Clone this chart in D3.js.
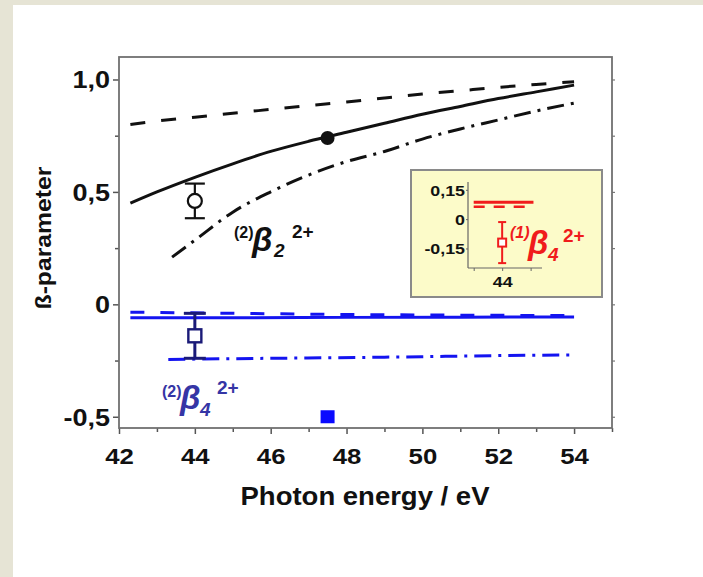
<!DOCTYPE html>
<html><head><meta charset="utf-8">
<script src="https://cdn.jsdelivr.net/npm/d3@7"></script>
<style>
html,body{margin:0;padding:0;background:#e6e4d5;}
svg{display:block;}
</style></head>
<body>
<svg id="chart" width="703" height="577"></svg>
<script>
// ---- data ----
const energyTicks = [42, 44, 46, 48, 50, 52, 54];
const energyTickLabels = ["42", "44", "46", "48", "50", "52", "54"];
const energyMinorTicks = [43, 45, 47, 49, 51, 53, 55];
const betaTicks = [-0.5, 0, 0.5, 1.0];
const betaTickLabels = ["-0,5", "0", "0,5", "1,0"];
const betaMinorTicks = [-0.25, 0.25, 0.75];

// beta_2 calculations (black)
const b2Energy = [42.3, 43, 44, 45, 46, 47, 48, 49, 50, 51, 52, 53, 54];
const b2Dashed = [0.80, 0.815, 0.832, 0.85, 0.867, 0.884, 0.90, 0.918, 0.935, 0.95, 0.965, 0.978, 0.99];
const b2Solid = [0.45, 0.50, 0.565, 0.625, 0.68, 0.725, 0.765, 0.805, 0.845, 0.88, 0.915, 0.945, 0.975];
const b2DashDotEnergy = [43.4, 44, 45, 46, 47, 48, 49, 50, 51, 52, 53, 54];
const b2DashDot = [0.21, 0.285, 0.41, 0.50, 0.575, 0.635, 0.68, 0.735, 0.78, 0.82, 0.86, 0.895];

// beta_4 calculations (blue)
const b4Energy = [42.3, 45, 48, 51, 54];
const b4Dashed = [-0.035, -0.04, -0.045, -0.048, -0.05];
const b4Solid = [-0.06, -0.06, -0.058, -0.057, -0.056];
const b4DashDotEnergy = [43.3, 46, 49, 52, 54];
const b4DashDot = [-0.245, -0.24, -0.235, -0.228, -0.225];

// measured points
const b2OpenE = [44], b2OpenV = [0.46], b2OpenErr = [0.077];
const b2FilledE = [47.5], b2FilledV = [0.74];
const b4OpenE = [44], b4OpenV = [-0.14], b4OpenErr = [0.10];
const b4FilledE = [47.5], b4FilledV = [-0.5];

// inset: first-order beta_4
const insetTicks = [-0.15, 0, 0.15];
const insetTickLabels = ["-0,15", "0", "0,15"];
const insetEnergyTicks = [43, 44, 45];
const insetLineEnergy = [43.0, 45.1];
const insetSolid = [0.086, 0.086];
const insetDashed = [0.064, 0.064];
const insetPointE = [44], insetPointV = [-0.12], insetPointErr = [0.105];

// ---- layout ----
const svg = d3.select("#chart");
const FONT = "'Liberation Sans', Arial, sans-serif";

svg.append("rect").attr("x", 13).attr("y", 5).attr("width", 690).attr("height", 572).attr("fill", "#ffffff");

const x = d3.scaleLinear().domain([42, 55]).range([119, 612]);
const y = d3.scaleLinear().domain([-0.55, 1.1]).range([428, 57]);

const BLACK = "#111111", BLUE = "#1414f0", NAVY = "#1a1a78", RED = "#f01c1c";

function stretchedText(g, px, py, str, size, anchor, rot, sx, color) {
  return g.append("text")
    .attr("transform", `translate(${px},${py}) rotate(${rot}) scale(${sx},1)`)
    .attr("text-anchor", anchor)
    .attr("font-family", FONT).attr("font-weight", "bold")
    .attr("font-size", size).attr("fill", color || "#111")
    .text(str);
}

// axes
const axisG = svg.append("g");
const bottom = d3.axisBottom(x).tickValues(energyTicks).tickSize(6)
  .tickFormat((d, i) => energyTickLabels[i]);
const gb = axisG.append("g").attr("transform", `translate(0,${y.range()[0]})`).call(bottom);
gb.select(".domain").remove();
gb.selectAll(".tick line").attr("stroke", "#555").attr("stroke-width", 1.5);
gb.selectAll(".tick text").attr("y", 0).attr("dy", null)
  .attr("transform", "translate(0,36) scale(1.12,1)")
  .attr("font-family", FONT).attr("font-weight", "bold").attr("font-size", 23).attr("fill", "#111");

const bottomMinor = d3.axisBottom(x).tickValues(energyMinorTicks).tickSize(4).tickFormat("");
const gbm = axisG.append("g").attr("transform", `translate(0,${y.range()[0]})`).call(bottomMinor);
gbm.select(".domain").remove();
gbm.selectAll(".tick line").attr("stroke", "#555").attr("stroke-width", 1.5);

const left = d3.axisLeft(y).tickValues(betaTicks).tickSize(6)
  .tickFormat((d, i) => betaTickLabels[i]);
const gl = axisG.append("g").attr("transform", `translate(${x.range()[0]},0)`).call(left);
gl.select(".domain").remove();
gl.selectAll(".tick line").attr("stroke", "#555").attr("stroke-width", 1.5);
gl.selectAll(".tick text").attr("x", 0).attr("dy", null)
  .attr("transform", "translate(-9,8.5) scale(1.15,1)")
  .attr("font-family", FONT).attr("font-weight", "bold").attr("font-size", 23.5).attr("fill", "#111");

const leftMinor = d3.axisLeft(y).tickValues(betaMinorTicks).tickSize(4).tickFormat("");
const glm = axisG.append("g").attr("transform", `translate(${x.range()[0]},0)`).call(leftMinor);
glm.select(".domain").remove();
glm.selectAll(".tick line").attr("stroke", "#555").attr("stroke-width", 1.5);

const rightMinor = d3.axisRight(y).tickValues(betaTicks.concat(betaMinorTicks)).tickSize(3).tickFormat("");
const grm = axisG.append("g").attr("transform", `translate(${x.range()[1]},0)`).call(rightMinor);
grm.select(".domain").remove();
grm.selectAll(".tick line").attr("stroke", "#777").attr("stroke-width", 1.2);

// frame
svg.append("rect").attr("x", x.range()[0]).attr("y", y.range()[1])
  .attr("width", x.range()[1] - x.range()[0]).attr("height", y.range()[0] - y.range()[1])
  .attr("fill", "none").attr("stroke", "#707070").attr("stroke-width", 1.8);

// axis titles
stretchedText(svg, 365, 505, "Photon energy / eV", 25, "middle", 0, 1.1);
stretchedText(svg, 51, 238, "ß-parameter", 22.5, "middle", -90, 1.1);

// curves
const lineGen = d3.line().x(d => x(d[0])).y(d => y(d[1])).curve(d3.curveMonotoneX);
function curve(es, vs, color, dash, width) {
  svg.append("path").datum(es.map((e, i) => [e, vs[i]]))
    .attr("d", lineGen).attr("fill", "none").attr("stroke", color)
    .attr("stroke-width", width).attr("stroke-dasharray", dash).attr("stroke-linecap", "butt");
}
curve(b2Energy, b2Dashed, BLACK, "15,16", 3);
curve(b2Energy, b2Solid, BLACK, null, 3);
curve(b2DashDotEnergy, b2DashDot, BLACK, "17,7,3,7", 3);
curve(b4Energy, b4Dashed, BLUE, "14,16", 3);
curve(b4Energy, b4Solid, BLUE, null, 3);
curve(b4DashDotEnergy, b4DashDot, BLUE, "17,7,3,7", 3);

// error bars
function errorBar(xs, ys, es, vs, errs, color, cap, width) {
  es.forEach((e, i) => {
    const cx = xs(e), top = ys(vs[i] + errs[i]), bot = ys(vs[i] - errs[i]);
    const g = svg.append("g").attr("stroke", color).attr("stroke-width", width);
    g.append("line").attr("x1", cx).attr("x2", cx).attr("y1", top).attr("y2", bot);
    g.append("line").attr("x1", cx - cap / 2).attr("x2", cx + cap / 2).attr("y1", top).attr("y2", top);
    g.append("line").attr("x1", cx - cap / 2).attr("x2", cx + cap / 2).attr("y1", bot).attr("y2", bot);
  });
}
errorBar(x, y, b2OpenE, b2OpenV, b2OpenErr, BLACK, 20, 2.2);
b2OpenE.forEach((e, i) => svg.append("circle").attr("cx", x(e)).attr("cy", y(b2OpenV[i])).attr("r", 7)
  .attr("fill", "#fff").attr("stroke", BLACK).attr("stroke-width", 2.2));
b2FilledE.forEach((e, i) => svg.append("circle").attr("cx", x(e)).attr("cy", y(b2FilledV[i])).attr("r", 7)
  .attr("fill", BLACK));

errorBar(x, y, b4OpenE, b4OpenV, b4OpenErr, NAVY, 22, 3);
b4OpenE.forEach((e, i) => svg.append("rect").attr("x", x(e) - 6.5).attr("y", y(b4OpenV[i]) - 6.5)
  .attr("width", 13).attr("height", 13).attr("fill", "#fff").attr("stroke", NAVY).attr("stroke-width", 2.4));
b4FilledE.forEach((e, i) => svg.append("rect").attr("x", x(e) - 7).attr("y", y(b4FilledV[i]) - 6.5)
  .attr("width", 14).attr("height", 13).attr("fill", "#0a0aff"));

// series labels
function betaLabel(parts, color) {
  const t = svg.append("text").attr("font-family", FONT).attr("font-weight", "bold").attr("fill", color);
  parts.forEach(p => t.append("tspan").attr("x", p.x).attr("y", p.y)
    .attr("font-size", p.s).attr("font-style", p.i ? "italic" : "normal").text(p.t));
}
betaLabel([
  { t: "(2)", x: 234, y: 238, s: 16, i: false },
  { t: "β", x: 252, y: 251, s: 33, i: true },
  { t: "2", x: 274, y: 257, s: 19, i: true },
  { t: "2+", x: 292, y: 238, s: 19, i: false }
], BLACK);
betaLabel([
  { t: "(2)", x: 162, y: 397, s: 16, i: false },
  { t: "β", x: 180, y: 409, s: 33, i: true },
  { t: "4", x: 200, y: 416, s: 19, i: true },
  { t: "2+", x: 217, y: 394, s: 19, i: false }
], "#3535a5");

// inset
const inset = svg.append("g");
inset.append("rect").attr("x", 411).attr("y", 170).attr("width", 191).attr("height", 127)
  .attr("fill", "#fcfbc9").attr("stroke", "#8a8a8a").attr("stroke-width", 2);
const xi = d3.scaleLinear().domain([42.8, 45.4]).range([468, 542]);
const yi = d3.scaleLinear().domain([-0.25, 0.19]).range([268, 182]);

const ib = d3.axisBottom(xi).tickValues(insetEnergyTicks).tickSize(3)
  .tickFormat(d => d === 44 ? "44" : "");
const gib = inset.append("g").attr("transform", `translate(0,${yi.range()[0]})`).call(ib);
gib.select(".domain").attr("stroke", "#666").attr("stroke-width", 1.2).attr("d", `M${xi.range()[0]},0H${xi.range()[1]}`);
gib.selectAll(".tick line").attr("stroke", "#666");
gib.selectAll(".tick text").attr("y", 0).attr("dy", null)
  .attr("transform", "translate(0,19) scale(1.15,1)")
  .attr("font-family", FONT).attr("font-weight", "bold").attr("font-size", 15.5).attr("fill", "#111");

const il = d3.axisLeft(yi).tickValues(insetTicks).tickSize(2)
  .tickFormat((d, i) => insetTickLabels[i]);
const gil = inset.append("g").attr("transform", `translate(${xi.range()[0]},0)`).call(il);
gil.select(".domain").attr("stroke", "#666").attr("stroke-width", 1.2).attr("d", `M0,${yi.range()[1]}V${yi.range()[0]}`);
gil.selectAll(".tick line").attr("stroke", "#666");
gil.selectAll(".tick text").attr("x", 0).attr("dy", null)
  .attr("transform", "translate(-3,5.5) scale(1.15,1)")
  .attr("font-family", FONT).attr("font-weight", "bold").attr("font-size", 15.5).attr("fill", "#111");

const insetLine = d3.line().x(d => xi(d[0])).y(d => yi(d[1]));
inset.append("path").datum(insetLineEnergy.map((e, i) => [e, insetSolid[i]]))
  .attr("d", insetLine).attr("stroke", RED).attr("stroke-width", 3).attr("fill", "none");
inset.append("path").datum(insetLineEnergy.map((e, i) => [e, insetDashed[i]]))
  .attr("d", insetLine).attr("stroke", RED).attr("stroke-width", 2.5).attr("fill", "none")
  .attr("stroke-dasharray", "11,9");

insetPointE.forEach((e, i) => {
  const cx = xi(e), top = yi(insetPointV[i] + insetPointErr[i]), bot = yi(insetPointV[i] - insetPointErr[i]);
  const g = inset.append("g").attr("stroke", RED).attr("stroke-width", 2);
  g.append("line").attr("x1", cx).attr("x2", cx).attr("y1", top).attr("y2", bot);
  g.append("line").attr("x1", cx - 4).attr("x2", cx + 4).attr("y1", top).attr("y2", top);
  g.append("line").attr("x1", cx - 4).attr("x2", cx + 4).attr("y1", bot).attr("y2", bot);
  g.append("rect").attr("x", cx - 4).attr("y", yi(insetPointV[i]) - 4).attr("width", 8).attr("height", 8)
    .attr("fill", "#fff");
});

betaLabel([
  { t: "(1)", x: 510, y: 238, s: 16, i: true },
  { t: "β", x: 528, y: 254, s: 33, i: true },
  { t: "4", x: 548, y: 261, s: 19, i: true },
  { t: "2+", x: 563, y: 242, s: 19, i: false }
], RED);
</script>
</body></html>
